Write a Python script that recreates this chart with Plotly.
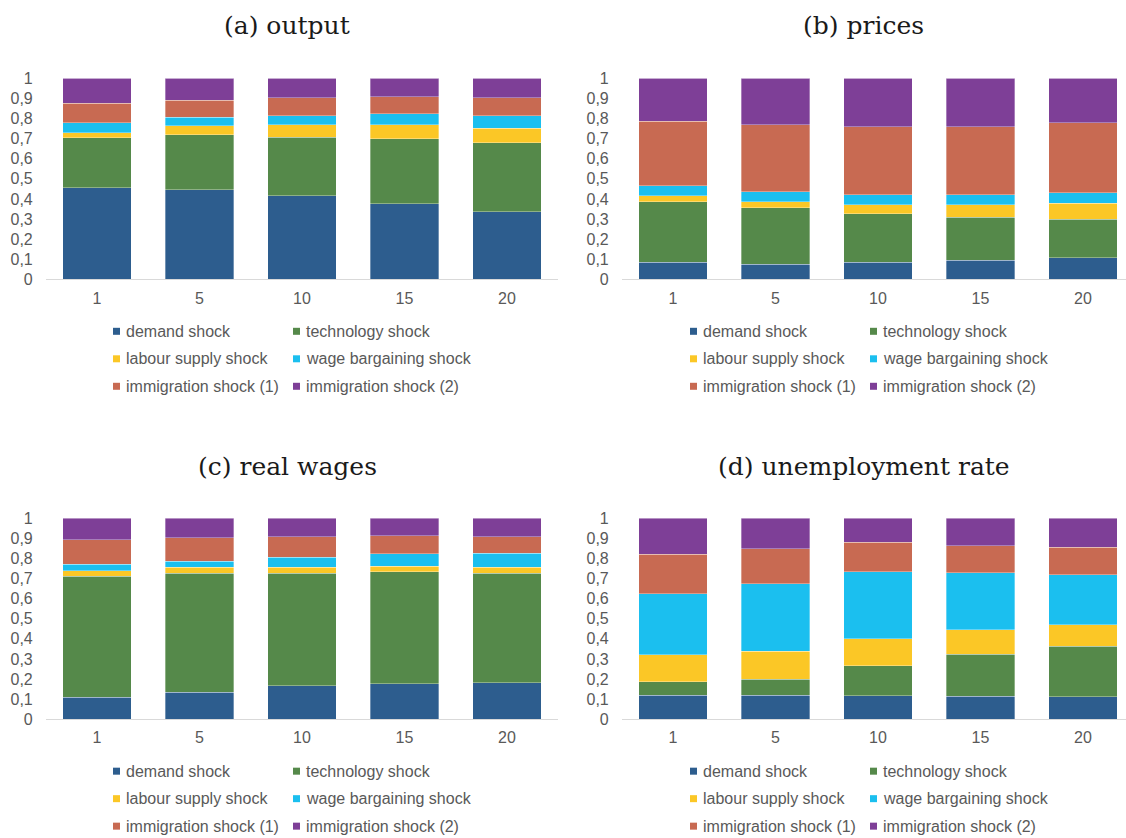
import plotly.graph_objects as go

W, H = 1126, 838

# Horizons (quarters) on the category axis
horizons = ["1", "5", "10", "15", "20"]

# Shock names and colours (bottom of the stack first)
shock_names = ["demand shock", "technology shock", "labour supply shock",
               "wage bargaining shock", "immigration shock (1)", "immigration shock (2)"]
shock_colors = ["#2D5D8E", "#55894A", "#FBC726", "#1BBFEF", "#C86A52", "#7E3F97"]

# Forecast error variance shares, one list per shock, per horizon
output_demand = [0.456, 0.446, 0.415, 0.375, 0.337]
output_tech = [0.249, 0.274, 0.293, 0.325, 0.343]
output_labour = [0.025, 0.043, 0.060, 0.068, 0.071]
output_wage = [0.048, 0.043, 0.046, 0.055, 0.062]
output_imm1 = [0.098, 0.086, 0.090, 0.086, 0.091]
output_imm2 = [0.124, 0.108, 0.096, 0.091, 0.096]

prices_demand = [0.086, 0.076, 0.086, 0.095, 0.108]
prices_tech = [0.300, 0.281, 0.241, 0.213, 0.191]
prices_labour = [0.029, 0.028, 0.043, 0.062, 0.079]
prices_wage = [0.051, 0.051, 0.050, 0.050, 0.052]
prices_imm1 = [0.320, 0.332, 0.340, 0.340, 0.348]
prices_imm2 = [0.214, 0.232, 0.240, 0.240, 0.222]

wages_demand = [0.108, 0.133, 0.166, 0.176, 0.182]
wages_tech = [0.603, 0.593, 0.560, 0.559, 0.544]
wages_labour = [0.027, 0.030, 0.030, 0.025, 0.030]
wages_wage = [0.033, 0.030, 0.050, 0.064, 0.070]
wages_imm1 = [0.123, 0.116, 0.103, 0.088, 0.083]
wages_imm2 = [0.106, 0.098, 0.091, 0.088, 0.091]

unemp_demand = [0.119, 0.119, 0.116, 0.113, 0.111]
unemp_tech = [0.067, 0.080, 0.149, 0.210, 0.251]
unemp_labour = [0.134, 0.139, 0.136, 0.123, 0.109]
unemp_wage = [0.305, 0.335, 0.334, 0.282, 0.247]
unemp_imm1 = [0.196, 0.174, 0.146, 0.136, 0.138]
unemp_imm2 = [0.179, 0.153, 0.119, 0.136, 0.144]

# Y tick values and their comma-decimal labels
y_tickvals = [0, 0.1, 0.2, 0.3, 0.4, 0.5, 0.6, 0.7, 0.8, 0.9, 1]
y_ticktext = ["0", "0,1", "0,2", "0,3", "0,4", "0,5", "0,6", "0,7", "0,8", "0,9", "1"]

panels = [
    ("(a) output", [output_demand, output_tech, output_labour, output_wage, output_imm1, output_imm2]),
    ("(b) prices", [prices_demand, prices_tech, prices_labour, prices_wage, prices_imm1, prices_imm2]),
    ("(c) real wages", [wages_demand, wages_tech, wages_labour, wages_wage, wages_imm1, wages_imm2]),
    ("(d) unemployment rate", [unemp_demand, unemp_tech, unemp_labour, unemp_wage, unemp_imm1, unemp_imm2]),
]

# Pixel layout of each panel: (x0, x1, y_bottom, y_top, title_x, title_y, legend_x, legend_y)
BAND = 102.5
frames = [
    (45.75, 558.25, 279, 78, 287, 25, 124, 331),
    (621.75, W, 279, 78, 863, 25, 701, 331),
    (45.75, 558.25, 719, 518, 287, 466, 124, 771),
    (621.75, W, 719, 518, 864, 466, 701, 771),
]
ROW_STEP = 27.5

TICK_FONT = dict(family="Liberation Sans, Arial, sans-serif", size=16, color="#595959")
LEG_FONT = dict(family="Liberation Sans, Arial, sans-serif", size=16, color="#595959")
TITLE_FONT = dict(family="DejaVu Serif, serif", size=25, color="#1a1a1a")

# vertical page calibration of the rendered figure
Y_OFF, Y_SCALE = 7.6, 0.98


def px(x):
    return x / W


def py(y):
    return 1 - ((y - Y_OFF) / Y_SCALE) / H


fig = go.Figure()
annotations = []
shapes = []

for i, ((title, series), fr) in enumerate(zip(panels, frames)):
    x0, x1, yb, yt, tx, ty, lx, ly = fr
    sfx = "" if i == 0 else str(i + 1)
    xa, ya = "x" + sfx, "y" + sfx
    for name, color, vals in zip(shock_names, shock_colors, series):
        fig.add_trace(go.Bar(
            x=horizons, y=vals, name=name, xaxis=xa, yaxis=ya,
            marker=dict(color=color, line=dict(color="rgba(255,255,255,0.55)", width=0.6)),
            showlegend=False,
        ))
    n_bands = (x1 - x0) / BAND
    fig.layout["xaxis" + sfx] = dict(
        domain=[px(x0), px(x1)], anchor=ya, type="category",
        range=[-0.5, n_bands - 0.5], showgrid=False, zeroline=False,
        showline=True, linecolor="#D9D9D9", linewidth=1.2, ticks="",
        tickfont=TICK_FONT, ticklabelstandoff=4, fixedrange=True,
    )
    fig.layout["yaxis" + sfx] = dict(
        domain=[py(yb), py(yt)], anchor=xa, range=[0, 1],
        tickvals=y_tickvals, ticktext=y_ticktext, showgrid=False,
        zeroline=False, showline=False, ticks="", tickfont=TICK_FONT,
        ticklabelstandoff=12, fixedrange=True,
    )
    annotations.append(dict(
        text=title, x=px(tx), y=py(ty), xref="paper", yref="paper",
        xanchor="center", yanchor="middle", showarrow=False, font=TITLE_FONT,
    ))
    # Two-column legend: row-major order of the shocks
    for k, (name, color) in enumerate(zip(shock_names, shock_colors)):
        col, row = k % 2, k // 2
        text_x = lx + col * 180
        row_y = ly + row * ROW_STEP
        shapes.append(dict(
            type="rect", xref="paper", yref="paper",
            x0=px(text_x - 11), x1=px(text_x - 4),
            y0=py(row_y + 3.5), y1=py(row_y - 3.5),
            fillcolor=color, line=dict(width=0),
        ))
        annotations.append(dict(
            text=name, x=px(text_x), y=py(row_y), xref="paper", yref="paper",
            xanchor="left", yanchor="middle", showarrow=False, font=LEG_FONT,
        ))

fig.update_layout(
    width=W, height=H, barmode="stack", bargap=1 / 3,
    margin=dict(l=0, r=0, t=0, b=0),
    paper_bgcolor="white", plot_bgcolor="white",
    annotations=annotations, shapes=shapes, showlegend=False,
)

fig.write_html("out.html")
